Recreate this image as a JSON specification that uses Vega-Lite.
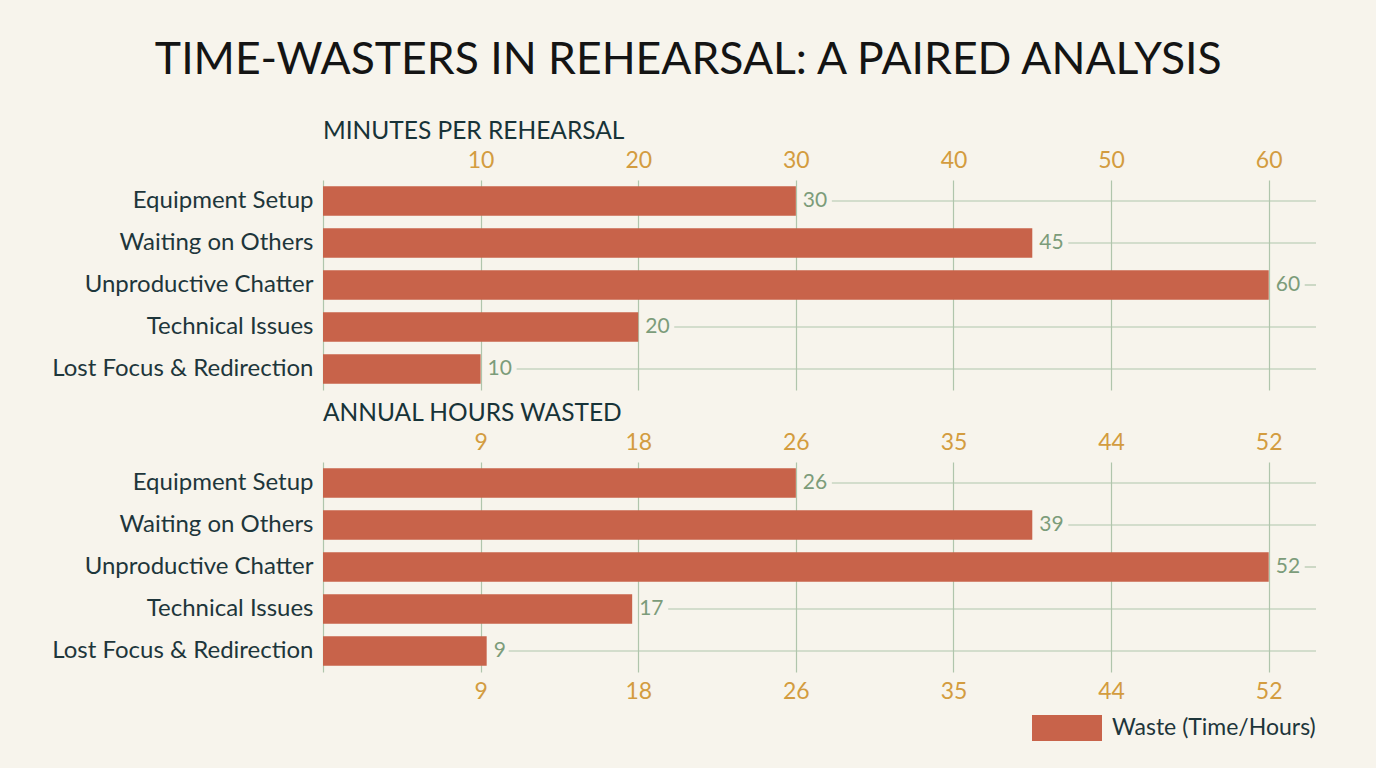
{
  "$schema": "https://vega.github.io/schema/vega-lite/v6.json",
  "background": "#F7F4EC",
  "padding": {"left": 0, "top": 38, "right": 60, "bottom": 30},
  "autosize": {"type": "pad"},
  "title": {
    "text": "TIME-WASTERS IN REHEARSAL: A PAIRED ANALYSIS",
    "font": "Lato",
    "fontSize": 44.5,
    "fontWeight": "normal",
    "color": "#141414",
    "anchor": "middle",
    "frame": "bounds",
    "dx": 30,
    "offset": 35
  },
  "config": {
    "font": "Lato",
    "view": {"stroke": null},
    "axis": {
      "domain": false,
      "ticks": false,
      "labelFont": "Lato",
      "labelFontSize": 23,
      "labelColor": "#D39C3F",
      "gridColor": "#B0C5AC",
      "gridWidth": 1.2
    },
    "axisY": {
      "grid": false,
      "labelColor": "#1E363B",
      "labelFontSize": 24,
      "labelPadding": 10,
      "labelLimit": 0,
      "minExtent": 323,
      "maxExtent": 323
    },
    "legend": {
      "symbolType": "M-1,-0.37H1V0.37H-1Z",
      "symbolSize": 4900,
      "symbolStrokeWidth": 0,
      "labelFont": "Lato",
      "labelFontSize": 23,
      "labelColor": "#1E363B",
      "labelOffset": 10,
      "labelLimit": 0,
      "padding": 0
    }
  },
  "data": {
    "values": [
      {"activity": "Equipment Setup", "minutes": 30, "hours": 26},
      {"activity": "Waiting on Others", "minutes": 45, "hours": 39},
      {"activity": "Unproductive Chatter", "minutes": 60, "hours": 52},
      {"activity": "Technical Issues", "minutes": 20, "hours": 17},
      {"activity": "Lost Focus & Redirection", "minutes": 10, "hours": 9}
    ]
  },
  "spacing": 10,
  "vconcat": [
    {
      "width": 993,
      "height": 210,
      "title": {
        "text": "MINUTES PER REHEARSAL",
        "anchor": "start",
        "frame": "group",
        "font": "Lato",
        "fontSize": 24.5,
        "fontWeight": "normal",
        "color": "#173338",
        "offset": 5
      },
      "encoding": {
        "y": {
          "field": "activity",
          "type": "nominal",
          "sort": null,
          "title": null,
          "scale": {"paddingInner": 0.3, "paddingOuter": 0.15}
        }
      },
      "layer": [
        {
          "mark": {"type": "rule", "color": "#B0C5AC", "strokeWidth": 1.2, "xOffset": {"expr": "datum.minutes < 10 ? 22 : 36"}},
          "encoding": {
            "x": {
              "field": "minutes",
              "type": "quantitative",
              "title": null,
              "scale": {"domain": [0, 63], "nice": false},
              "axis": {
                "orient": "top",
                "grid": true,
                "values": [0, 10, 20, 30, 40, 50, 60],
                "labelExpr": "datum.value == 0 ? '' : datum.label",
                "labelPadding": 8
              }
            },
            "x2": {"datum": 63}
          }
        },
        {
          "mark": {"type": "bar"},
          "encoding": {
            "x": {"field": "minutes", "type": "quantitative"},
            "color": {
              "datum": "Waste (Time/Hours)",
              "scale": {"range": ["#C8634A"]},
              "legend": {"title": null, "orient": "none", "legendX": 709, "legendY": 513}
            }
          }
        },
        {
          "mark": {"type": "text", "align": "left", "baseline": "middle", "dx": 7, "fontSize": 21, "color": "#7C9C7A"},
          "encoding": {
            "x": {"field": "minutes", "type": "quantitative"},
            "text": {"field": "minutes", "type": "quantitative"}
          }
        }
      ]
    },
    {
      "width": 993,
      "height": 210,
      "title": {
        "text": "ANNUAL HOURS WASTED",
        "anchor": "start",
        "frame": "group",
        "font": "Lato",
        "fontSize": 24.5,
        "fontWeight": "normal",
        "color": "#173338",
        "offset": 5
      },
      "encoding": {
        "y": {
          "field": "activity",
          "type": "nominal",
          "sort": null,
          "title": null,
          "scale": {"paddingInner": 0.3, "paddingOuter": 0.15}
        }
      },
      "resolve": {"axis": {"x": "independent"}},
      "layer": [
        {
          "mark": {"type": "rule", "color": "#B0C5AC", "strokeWidth": 1.2, "xOffset": {"expr": "datum.hours < 10 ? 22 : 36"}},
          "encoding": {
            "x": {
              "field": "hours",
              "type": "quantitative",
              "title": null,
              "scale": {"domain": [0, 54.6], "nice": false},
              "axis": {
                "orient": "top",
                "grid": true,
                "values": [0, 8.666666666666666, 17.333333333333332, 26, 34.666666666666664, 43.333333333333336, 52],
                "labelExpr": "datum.value == 0 ? '' : ceil(datum.value)",
                "labelPadding": 8
              }
            },
            "x2": {"datum": 54.6}
          }
        },
        {
          "mark": {"type": "bar"},
          "encoding": {
            "x": {
              "field": "hours",
              "type": "quantitative",
              "title": null,
              "axis": {
                "orient": "bottom",
                "grid": false,
                "values": [8.666666666666666, 17.333333333333332, 26, 34.666666666666664, 43.333333333333336, 52],
                "labelExpr": "ceil(datum.value)",
                "labelPadding": 8
              }
            },
            "color": {"datum": "Waste (Time/Hours)"}
          }
        },
        {
          "mark": {"type": "text", "align": "left", "baseline": "middle", "dx": 7, "fontSize": 21, "color": "#7C9C7A"},
          "encoding": {
            "x": {"field": "hours", "type": "quantitative", "axis": null},
            "text": {"field": "hours", "type": "quantitative"}
          }
        }
      ]
    }
  ]
}
